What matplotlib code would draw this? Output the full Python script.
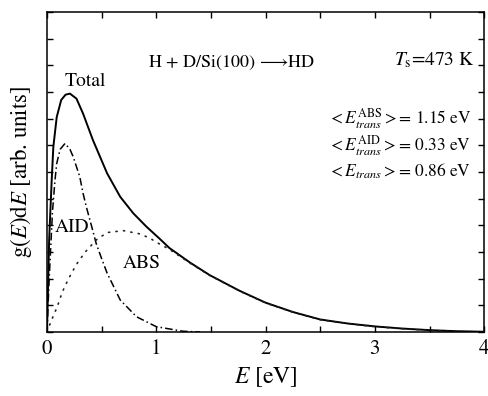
import matplotlib
matplotlib.use("Agg")
import matplotlib.pyplot as plt
import numpy as np

plt.rcParams['font.family'] = ['STIXGeneral', 'DejaVu Serif']
plt.rcParams['mathtext.fontset'] = 'stix'

# Data (E in eV, g(E)dE in arb. units)
total_E = [0, 0.02, 0.043, 0.058, 0.089, 0.13, 0.17, 0.21, 0.27, 0.33, 0.42, 0.55, 0.67,
           0.79, 0.91, 1.03, 1.12, 1.31, 1.49, 1.76, 2.0, 2.25, 2.5, 2.75, 3.0, 3.25, 3.5, 3.75, 4.0]
total_g = [0, 3.5, 5.69, 6.94, 8.06, 8.7, 8.9, 8.94, 8.75, 8.19, 7.2, 5.95, 5.07,
           4.45, 3.95, 3.5, 3.15, 2.6, 2.13, 1.55, 1.1, 0.75, 0.47, 0.32, 0.21, 0.13, 0.07, 0.03, 0.01]

aid_E = [0, 0.02, 0.05, 0.073, 0.089, 0.12, 0.165, 0.21, 0.24, 0.30, 0.33, 0.36, 0.41,
         0.45, 0.50, 0.55, 0.67, 0.82, 1.0, 1.24, 1.4]
aid_g = [0, 2.0, 4.5, 5.69, 6.32, 6.85, 7.07, 6.85, 6.57, 5.82, 5.2, 4.69, 3.94,
         3.32, 2.75, 2.21, 1.20, 0.57, 0.20, 0.03, 0]

abs_E = [0, 0.018, 0.048, 0.094, 0.14, 0.186, 0.23, 0.28, 0.35, 0.45, 0.55, 0.70, 0.85,
         0.94, 1.03, 1.12, 1.31, 1.49, 1.76, 2.0, 2.25, 2.5, 2.75, 3.0, 3.25, 3.5, 3.75, 4.0]
abs_g = [0, 0.2, 0.51, 0.95, 1.5, 1.9, 2.25, 2.6, 3.0, 3.45, 3.73, 3.8, 3.68,
         3.52, 3.3, 3.1, 2.58, 2.12, 1.54, 1.09, 0.74, 0.46, 0.31, 0.2, 0.12, 0.06, 0.02, 0.0]

x_ticks = [0, 1, 2, 3, 4]
mean_labels = [r"$<E^{\mathrm{ABS}}_{trans}>$= 1.15 eV",
               r"$<E^{\mathrm{AID}}_{trans}>$= 0.33 eV",
               r"$<E_{trans}>$= 0.86 eV"]

fig = plt.figure(figsize=(4.89, 3.96), dpi=100)
ax = fig.add_axes([0.0961, 0.1616, 0.8940, 0.8081])

ax.plot(total_E, total_g, color='black', lw=1.4, solid_joinstyle='round')
ax.plot(aid_E, aid_g, color='black', lw=1.1, linestyle=(0, (5, 2, 1, 2)))
ax.plot(abs_E, abs_g, color='#222222', lw=1.2, linestyle=(0, (0.7, 3.8)), dash_capstyle='round')

ax.set_xlim(0, 4)
ax.set_ylim(0, 12)
ax.set_xticks(x_ticks)
ax.set_xticks(np.arange(0.5, 4, 1.0), minor=True)
ax.set_yticks(np.arange(0, 13, 1))
ax.set_yticklabels([])
ax.tick_params(which='both', direction='in', top=True, right=True, length=4.5, width=1.0,
               labelsize=15, pad=5)
for s in ax.spines.values():
    s.set_linewidth(1.1)

ax.set_xlabel(r"$E$ [eV]", fontsize=17, labelpad=5)
ax.set_ylabel(r"g($E$)d$E$ [arb. units]", fontsize=16.5, labelpad=4)

ax.text(0.92, 9.94, r"H + D/Si(100)$\,\longrightarrow\!$HD", fontsize=13, ha='left', va='baseline')
ax.text(3.91, 10.0, r"$T_{\mathrm{s}}$=473 K", fontsize=14, ha='right', va='baseline')
ax.text(0.157, 9.21, "Total", fontsize=14, ha='left', va='baseline')
ax.text(0.073, 3.75, "AID", fontsize=14, ha='left', va='baseline')
ax.text(0.69, 2.4, "ABS", fontsize=14, ha='left', va='baseline')
for i, lab in enumerate(mean_labels):
    ax.text(3.885, 7.83 - i * 1.01, lab, fontsize=12.5, ha='right', va='baseline')

fig.savefig("out.png", dpi=100)
